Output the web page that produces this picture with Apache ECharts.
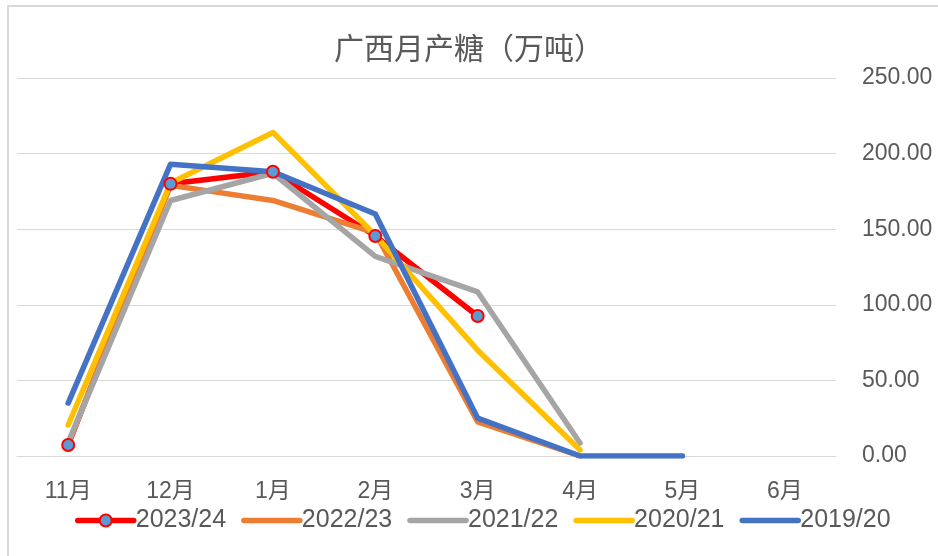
<!DOCTYPE html>
<html>
<head>
<meta charset="utf-8">
<script src="https://cdn.jsdelivr.net/npm/echarts@6/dist/echarts.min.js"></script>
<style>
  html, body { margin: 0; padding: 0; background: #fff; }
  .frame {
    position: absolute; left: 7px; top: 5px; right: -5px; bottom: -5px;
    border-left: 2px solid #d9d9d9; border-top: 2px solid #d9d9d9;
  }
  .chart { position: absolute; left: 0; top: 0; width: 938px; height: 556px; }
</style>
</head>
<body>
<div class="frame"></div>
<div class="chart" id="main"></div>
<script>
const months = ["11月", "12月", "1月", "2月", "3月", "4月", "5月", "6月"];
const names = ["2023/24", "2022/23", "2021/22", "2020/21", "2019/20"];
const s2324 = [7.3, 180, 188, 145.5, 92.6];
const s2223 = [8, 179, 169, 147.5, 22.5, 0];
const s2122 = [9, 169, 187, 132, 108.5, 8.6];
const s2021 = [20.5, 180.5, 214, 146, 70, 4];
const s1920 = [35, 193, 188, 160, 25, 0, 0];
const colors = ["#ff0000", "#ed7d31", "#a5a5a5", "#ffc000", "#4472c4"];

const font = "'Liberation Sans', 'Noto Sans CJK SC', sans-serif";
const grey = "#595959";

let myChart = echarts.init(document.getElementById("main"));

function lineSeries(i, data) {
  return {
    name: names[i],
    type: "line",
    data: data,
    symbol: "none",
    lineStyle: { color: colors[i], width: 5.5, cap: "round", join: "round" },
    itemStyle: { color: colors[i] },
  };
}

let first = lineSeries(0, s2324);
first.symbol = "circle";
first.symbolSize = 12;
first.itemStyle = { color: "#5b9bd5", borderColor: "#ff0000", borderWidth: 2 };

// legend: only the first entry keeps its marker
let legendData = names.map((n, i) =>
  i === 0 ? { name: n } : { name: n, itemStyle: { opacity: 0 } }
);

myChart.setOption({
  animation: false,
  title: {
    text: "广西月产糖（万吨）",
    left: "center",
    top: 28,
    textStyle: { fontFamily: "'Noto Sans CJK SC', sans-serif", fontSize: 30, fontWeight: "normal", color: grey },
  },
  grid: { left: 17, right: 102, top: 78, bottom: 100 },
  legend: {
    left: 70,
    top: 503,
    itemWidth: 56,
    itemHeight: 15,
    itemGap: 15,
    lineStyle: { width: 5.5, cap: "round" },
    textStyle: { fontFamily: font, fontSize: 25, color: grey, padding: [0, 0, 0, -3] },
    data: legendData,
  },
  xAxis: {
    type: "category",
    data: months,
    axisLine: { lineStyle: { color: "#d9d9d9", width: 1 } },
    axisTick: { show: false },
    axisLabel: { fontFamily: font, fontSize: 23, color: grey, margin: 24 },
  },
  yAxis: {
    type: "value",
    position: "right",
    min: 0,
    max: 250,
    interval: 50,
    axisLine: { show: false },
    axisTick: { show: false },
    splitLine: { lineStyle: { color: "#d9d9d9", width: 1 } },
    axisLabel: {
      fontFamily: font, fontSize: 23, color: grey, margin: 26,
      formatter: (v) => v.toFixed(2),
    },
  },
  series: [
    first,
    lineSeries(1, s2223),
    lineSeries(2, s2122),
    lineSeries(3, s2021),
    lineSeries(4, s1920),
  ],
});
</script>
</body>
</html>
